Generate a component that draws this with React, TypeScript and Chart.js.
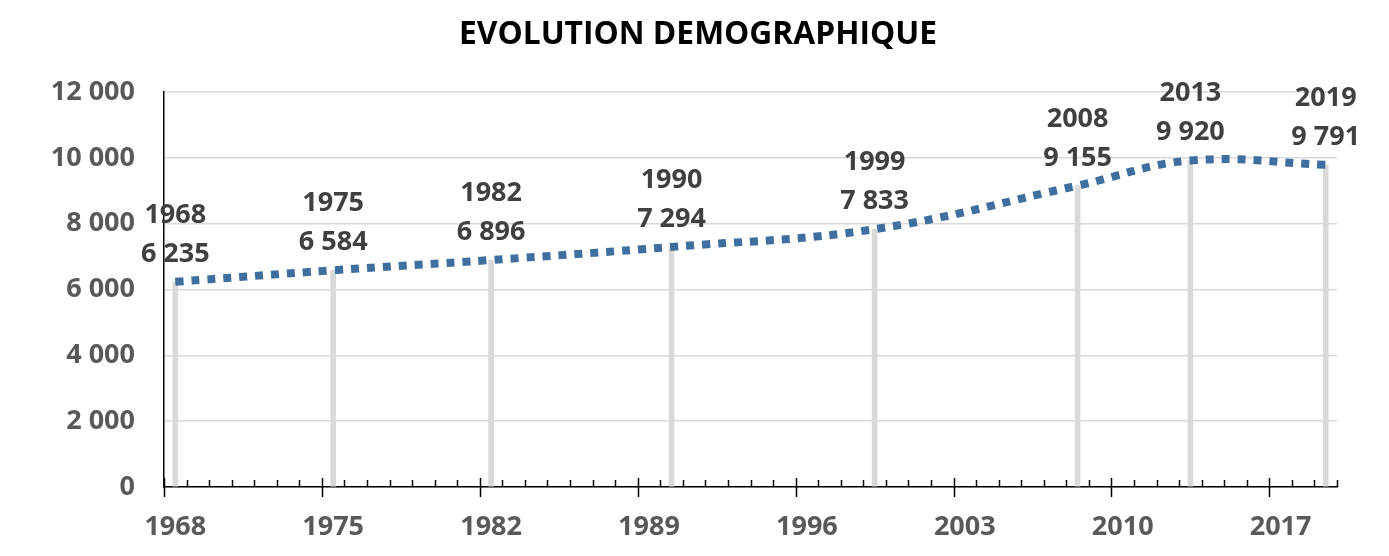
import React, { useEffect, useRef } from 'react';
import { Chart, registerables } from 'chart.js';

Chart.register(...registerables);

const chartTitle = 'EVOLUTION DEMOGRAPHIQUE';
const years = [1968, 1975, 1982, 1990, 1999, 2008, 2013, 2019];
const population = [6235, 6584, 6896, 7294, 7833, 9155, 9920, 9791];
const xTickYears = [1968, 1975, 1982, 1989, 1996, 2003, 2010, 2017];
const yTicks = [0, 2000, 4000, 6000, 8000, 10000, 12000];
const xMin = 1968;
const xMax = 2020;

const FONT = '"Open Sans", "Liberation Sans", sans-serif';

const fmt = (n: number) => String(n).replace(/\B(?=(\d{3})+(?!\d))/g, ' ');

const decorPlugin = {
  id: 'decor',
  afterDatasetsDraw(chart: any) {
    const { ctx } = chart;
    const meta = chart.getDatasetMeta(1);
    ctx.save();
    ctx.font = `bold 27px ${FONT}`;
    ctx.fillStyle = '#404040';
    ctx.textAlign = 'center';
    ctx.textBaseline = 'alphabetic';
    meta.data.forEach((pt: any, i: number) => {
      ctx.fillText(String(years[i]), pt.x, pt.y - 59);
      ctx.fillText(fmt(population[i]), pt.x, pt.y - 20);
    });
    ctx.restore();
  },
  afterDraw(chart: any) {
    const { ctx, chartArea, scales } = chart;
    const xs = scales.x;
    const yb = chartArea.bottom;
    ctx.save();
    ctx.strokeStyle = '#000';
    ctx.lineWidth = 1.5;
    for (let yr = xMin; yr <= xMax; yr++) {
      const px = Math.round(xs.getPixelForValue(yr)) + 0.5;
      const major = xTickYears.includes(yr);
      ctx.beginPath();
      ctx.moveTo(px, major ? yb + 10 : yb);
      ctx.lineTo(px, yb - (major ? 9 : 7));
      ctx.stroke();
    }
    ctx.font = `bold 32px ${FONT}`;
    ctx.fillStyle = '#000';
    ctx.textAlign = 'center';
    ctx.textBaseline = 'alphabetic';
    ctx.fillText(chartTitle, 698, 44, 478);
    ctx.restore();
  },
};

export default function App() {
  const ref = useRef<HTMLCanvasElement | null>(null);

  useEffect(() => {
    if (!ref.current) return;
    const points = years.map((y, i) => ({ x: y + 0.5, y: population[i] }));
    const chart = new Chart(ref.current, {
      type: 'line',
      data: {
        datasets: [
          {
            type: 'bar',
            data: points,
            backgroundColor: '#D9D9D9',
            barThickness: 5,
            order: 2,
          } as any,
          {
            type: 'line',
            data: points,
            borderColor: '#3F6F9E',
            borderWidth: 8,
            borderDash: [8, 8],
            borderCapStyle: 'butt',
            pointRadius: 0,
            tension: 0.4,
            fill: false,
            order: 1,
          } as any,
        ],
      },
      options: {
        animation: false,
        responsive: true,
        maintainAspectRatio: false,
        layout: { padding: { left: 0, top: 92, right: 52, bottom: 0 } },
        plugins: {
          legend: { display: false },
          tooltip: { enabled: false },
          title: { display: false },
        },
        scales: {
          x: {
            type: 'linear',
            min: xMin,
            max: xMax,
            offset: false,
            bounds: 'data',
            grid: { display: false, drawTicks: false, offset: false },
            border: { display: true, color: '#000', width: 1.5 },
            ticks: {
              padding: 24,
              color: '#595959',
              autoSkip: false,
              maxRotation: 0,
              font: { family: FONT, size: 27, weight: 'bold' },
              callback: (v: any) => String(Math.floor(Number(v))),
            },
            afterBuildTicks: (s: any) => {
              s.ticks = xTickYears.map((v) => ({ value: v + 0.5 }));
            },
            afterFit: (s: any) => {
              s.height = 69;
            },
          },
          y: {
            type: 'linear',
            min: 0,
            max: 12000,
            grid: { color: '#D9D9D9', lineWidth: 1.5, drawTicks: false },
            border: { display: true, color: '#000', width: 1.5 },
            ticks: {
              padding: 29,
              color: '#595959',
              font: { family: FONT, size: 27, weight: 'bold' },
              callback: (v: any) => fmt(Number(v)),
            },
            afterBuildTicks: (s: any) => {
              s.ticks = yTicks.map((v) => ({ value: v }));
            },
            afterFit: (s: any) => {
              s.width = 164;
            },
          },
        },
      } as any,
      plugins: [decorPlugin],
    });
    return () => chart.destroy();
  }, []);

  return (
    <div style={{ position: 'fixed', left: 0, top: 0, width: 1389, height: 556, background: '#fff' }}>
      <canvas ref={ref} />
    </div>
  );
}
